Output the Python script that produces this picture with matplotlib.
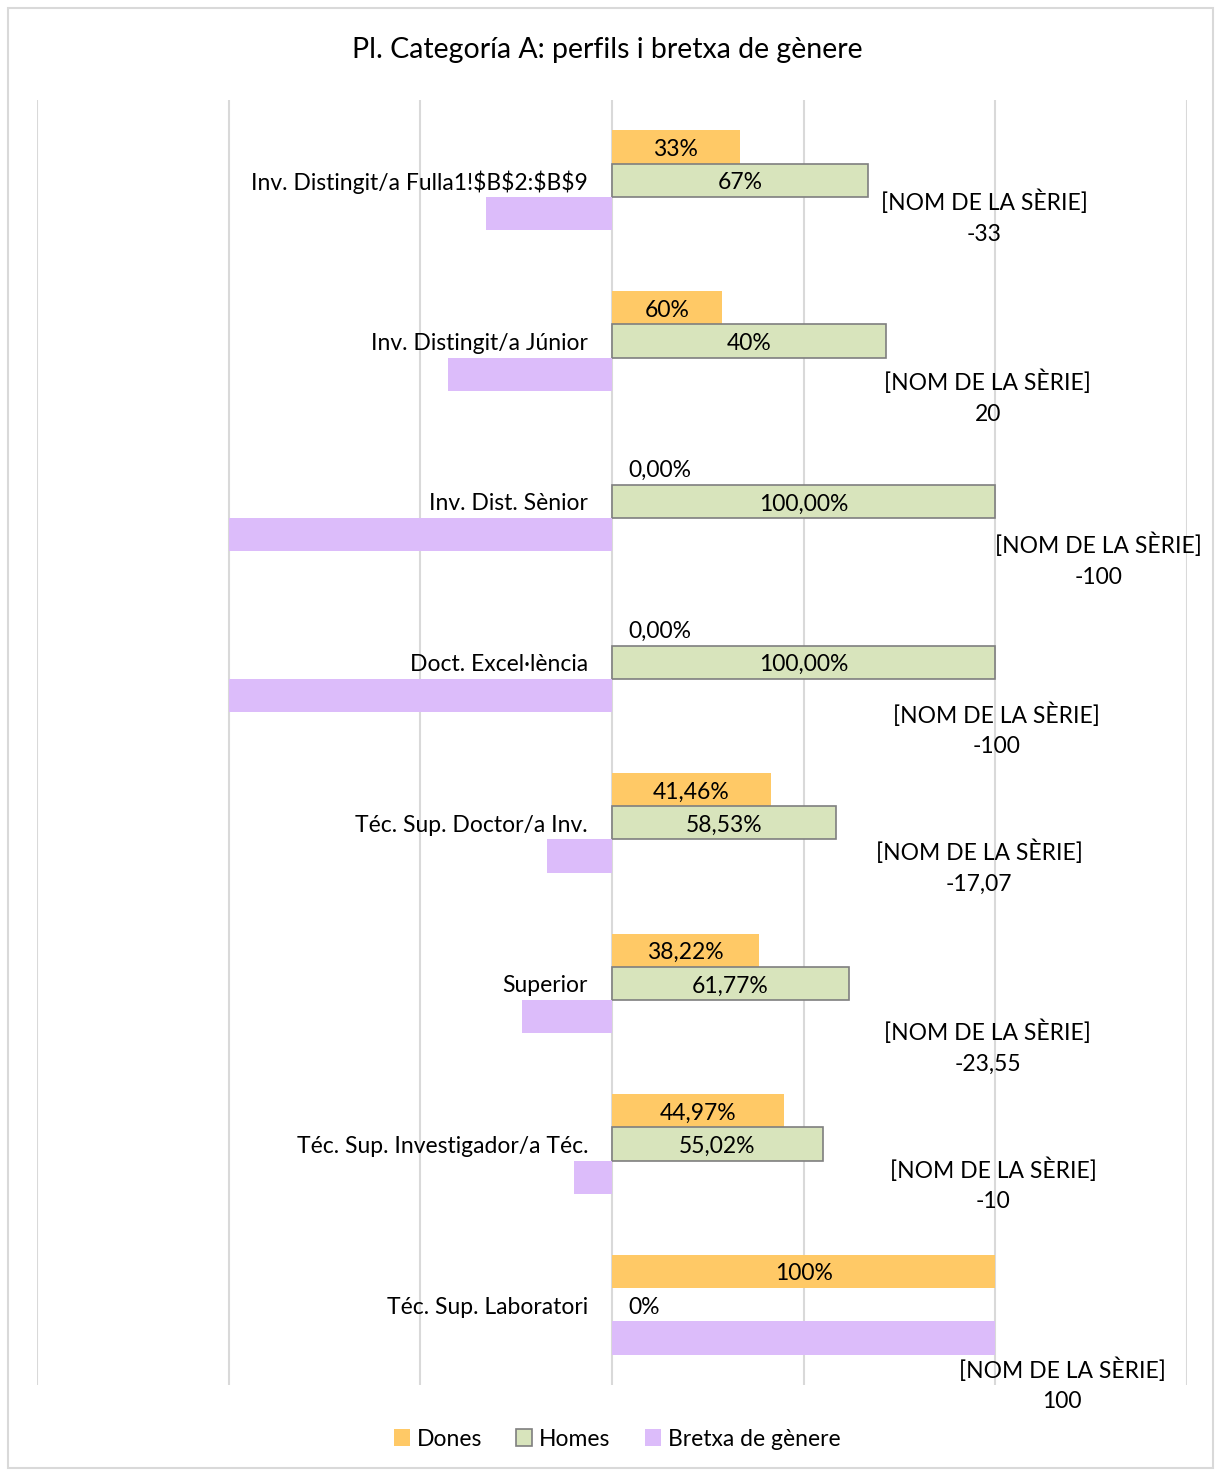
import matplotlib.pyplot as plt
import numpy as np
from matplotlib.patches import Rectangle

plt.rcParams["font.family"] = ["Lato", "DejaVu Sans"]
plt.rcParams["text.parse_math"] = False

CATEGORIES = [
    "Inv. Distingit/a Fulla1!$B$2:$B$9",
    "Inv. Distingit/a Júnior",
    "Inv. Dist. Sènior",
    "Doct. Excel·lència",
    "Téc. Sup. Doctor/a Inv.",
    "Superior",
    "Téc. Sup. Investigador/a Téc.",
    "Téc. Sup. Laboratori",
]

DONES = [33.3, 28.6, 0, 0, 41.46, 38.22, 44.97, 100]
HOMES = [66.7, 71.4, 100, 100, 58.53, 61.77, 55.02, 0]
BRETXA = [-33, -42.8, -100, -100, -17.07, -23.55, -10, 100]

DONES_LABELS = ["33%", "60%", "0,00%", "0,00%", "41,46%", "38,22%", "44,97%", "100%"]
HOMES_LABELS = ["67%", "40%", "100,00%", "100,00%", "58,53%", "61,77%", "55,02%", "0%"]
BRETXA_LABELS = ["-33", "20", "-100", "-100", "-17,07", "-23,55", "-10", "100"]

# where Excel dropped the gap labels (x in data units, y offset in categories)
GAP_LABEL_X = [97.1, 98.0, 127.0, 100.3, 95.8, 98.0, 99.5, 117.4]
GAP_LABEL_DY = [0.215, 0.336, 0.35, 0.405, 0.262, 0.383, 0.239, 0.485]

C_DONES = "#ffc966"
C_HOMES = "#d8e4bc"
C_BRETXA = "#dcbcfa"

FS = 16.5
NUDGE = 0.015  # text sits a hair lower in the reference

fig = plt.figure(figsize=(12.15, 14.7), dpi=100)
fig.patches.append(Rectangle((8 / 1215, 2 / 1470), 1205 / 1215, 1460 / 1470,
                             transform=fig.transFigure, fill=False,
                             edgecolor="#d9d9d9", linewidth=1.5))
ax = fig.add_axes([37 / 1215, 85 / 1470, 1150 / 1215, 1285 / 1470])

y = np.arange(len(CATEGORIES), dtype=float)
h = 0.207

ax.barh(y - h, DONES, height=h, color=C_DONES, label="Dones", zorder=3)
ax.barh(y, HOMES, height=h, color=C_HOMES, edgecolor="#7f7f7f",
        linewidth=[1.2 if v > 0 else 0 for v in HOMES], label="Homes", zorder=3)
ax.barh(y + h, BRETXA, height=h, color=C_BRETXA, label="Bretxa de gènere", zorder=3)

ax.set_xlim(-150, 150)
ax.set_ylim(len(CATEGORIES) - 0.5, -0.5)
ax.set_xticks([-150, -100, -50, 0, 50, 100, 150])
ax.set_yticks([])
ax.tick_params(axis="x", length=0, labelbottom=False)
ax.grid(True, axis="x", color="#d9d9d9", linewidth=1.5, zorder=0)
for s in ax.spines.values():
    s.set_visible(False)

for i, cat in enumerate(CATEGORIES):
    ax.text(-6.25, y[i] + NUDGE, cat, ha="right", va="center", fontsize=FS)
    for val, lab, yy in ((DONES[i], DONES_LABELS[i], y[i] - h),
                         (HOMES[i], HOMES_LABELS[i], y[i])):
        if val > 0:
            ax.text(val / 2, yy + NUDGE, lab, ha="center", va="center",
                    fontsize=FS, zorder=4)
        else:
            ax.text(4.2, yy + NUDGE, lab, ha="left", va="center",
                    fontsize=FS, zorder=4)
    ax.text(GAP_LABEL_X[i], y[i] + GAP_LABEL_DY[i] + NUDGE,
            "[NOM DE LA SÈRIE]\n" + BRETXA_LABELS[i],
            ha="center", va="center", fontsize=FS, linespacing=1.55, zorder=4)

fig.text(0.5, 1 - 50 / 1470, "Pl. Categoría A: perfils i bretxa de gènere",
         ha="center", va="center", fontsize=20.5)

fig.legend(loc="center", bbox_to_anchor=(617 / 1215, 1 - 1439 / 1470), ncol=3,
           frameon=False, fontsize=FS, handlelength=0.7, handleheight=0.7,
           handletextpad=0.3, columnspacing=1.5)

fig.savefig("out.png", dpi=100)
